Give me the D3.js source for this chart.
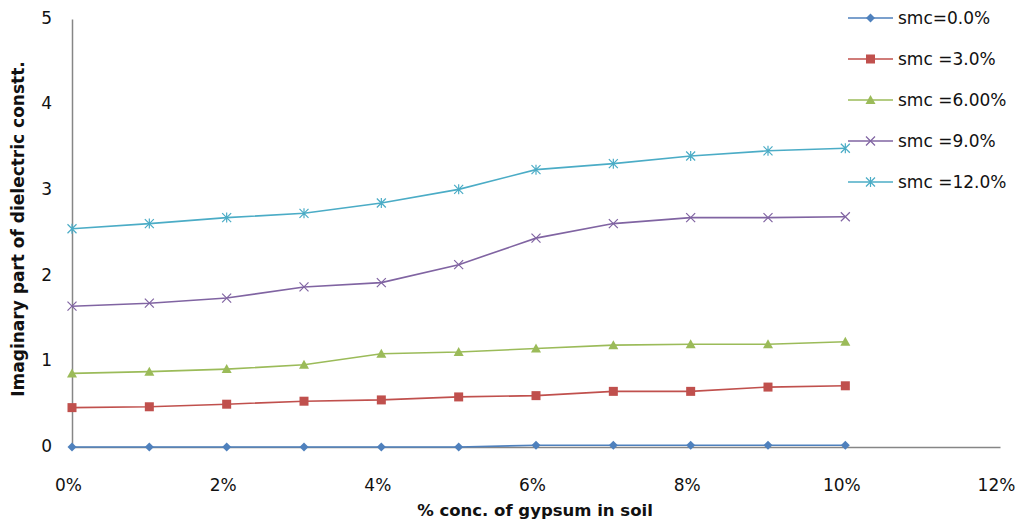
<!DOCTYPE html>
<html><head><meta charset="utf-8">
<script src="https://cdn.jsdelivr.net/npm/d3@7"></script>
<style>body{margin:0;background:#fff}svg{display:block}</style>
</head><body>
<svg id="c" width="1017" height="525"></svg>
<script>
const xValues = [0,1,2,3,4,5,6,7,8,9,10];
const xTicks = [0,2,4,6,8,10,12];
const yTicks = [0,1,2,3,4,5];
const seriesNames = ["smc=0.0%","smc =3.0%","smc =6.00%","smc =9.0%","smc =12.0%"];
const smc0  = [0,0,0,0,0,0,0.02,0.02,0.02,0.02,0.02];
const smc3  = [0.46,0.47,0.50,0.535,0.55,0.585,0.60,0.65,0.65,0.70,0.715];
const smc6  = [0.86,0.88,0.91,0.96,1.09,1.11,1.15,1.19,1.20,1.20,1.23];
const smc9  = [1.645,1.68,1.74,1.87,1.92,2.13,2.44,2.61,2.68,2.68,2.69];
const smc12 = [2.55,2.61,2.68,2.73,2.85,3.01,3.24,3.31,3.40,3.46,3.49];
const colors = ["#4F81BD","#C0504D","#9BBB59","#8064A2","#4BACC6"];
const markers = ["diamond","square","triangle","x","star"];
const allSeries = [smc0,smc3,smc6,smc9,smc12];

const svg = d3.select("#c");
const font = "'DejaVu Sans', sans-serif";
const x = d3.scaleLinear().domain([0,12]).range([72,1000]);
const y = d3.scaleLinear().domain([0,5]).range([447,19]);

const xAxis = svg.append("g").attr("transform","translate(0,447)")
  .call(d3.axisBottom(x).tickValues(xTicks).tickSize(0).tickPadding(32).tickFormat(d=>d+"%"));
const yAxis = svg.append("g").attr("transform","translate(72,0)")
  .call(d3.axisLeft(y).tickValues(yTicks).tickSize(0).tickPadding(20).tickFormat(d3.format("d")));
[xAxis,yAxis].forEach(a=>{
  a.select(".domain").attr("stroke","#868686").attr("stroke-width",1.5);
  a.selectAll("text").attr("font-family",font).attr("font-size",17).attr("fill","#111");
});
xAxis.selectAll("text").attr("dx",-4);
yAxis.selectAll("text").attr("dy","0.25em");

svg.append("text").attr("x",535).attr("y",516).attr("text-anchor","middle")
  .attr("font-family",font).attr("font-weight","bold").attr("font-size",16.5).attr("fill","#111")
  .text("% conc. of gypsum in soil");
svg.append("text").attr("transform","translate(24,229) rotate(-90)").attr("text-anchor","middle")
  .attr("font-family",font).attr("font-weight","bold").attr("font-size",17).attr("fill","#111")
  .text("Imaginary part of dielectric constt.");

function drawMarker(g, type, color, cx, cy){
  if(type==="diamond"){
    g.append("path").attr("d",`M${cx},${cy-4.5}L${cx+4.5},${cy}L${cx},${cy+4.5}L${cx-4.5},${cy}Z`).attr("fill",color);
  } else if(type==="square"){
    g.append("rect").attr("x",cx-4.5).attr("y",cy-4.5).attr("width",9).attr("height",9).attr("fill",color);
  } else if(type==="triangle"){
    g.append("path").attr("d",`M${cx},${cy-5}L${cx+5},${cy+4}L${cx-5},${cy+4}Z`).attr("fill",color);
  } else if(type==="x"){
    g.append("path").attr("d",`M${cx-4.5},${cy-4.5}L${cx+4.5},${cy+4.5}M${cx-4.5},${cy+4.5}L${cx+4.5},${cy-4.5}`).attr("stroke",color).attr("stroke-width",1.2);
  } else {
    g.append("path").attr("d",`M${cx-4.5},${cy-4.5}L${cx+4.5},${cy+4.5}M${cx-4.5},${cy+4.5}L${cx+4.5},${cy-4.5}M${cx},${cy-5}L${cx},${cy+5}`).attr("stroke",color).attr("stroke-width",1.2);
  }
}

const line = d3.line().x((d,i)=>x(xValues[i])).y(d=>y(d));
allSeries.forEach((s,k)=>{
  const g = svg.append("g");
  g.append("path").datum(s).attr("d",line).attr("fill","none").attr("stroke",colors[k]).attr("stroke-width",1.6);
  s.forEach((v,i)=>drawMarker(g, markers[k], colors[k], x(xValues[i]), y(v)));
});

const legendY = [18,59,100,141,182];
seriesNames.forEach((n,k)=>{
  const g = svg.append("g");
  const ly = legendY[k];
  g.append("line").attr("x1",848).attr("x2",893).attr("y1",ly).attr("y2",ly).attr("stroke",colors[k]).attr("stroke-width",1.6);
  drawMarker(g, markers[k], colors[k], 870.5, ly);
  g.append("text").attr("x",898).attr("y",ly).attr("dy","0.35em")
    .attr("font-family",font).attr("font-size",17).attr("fill","#111").text(n);
});
</script>
</body></html>
